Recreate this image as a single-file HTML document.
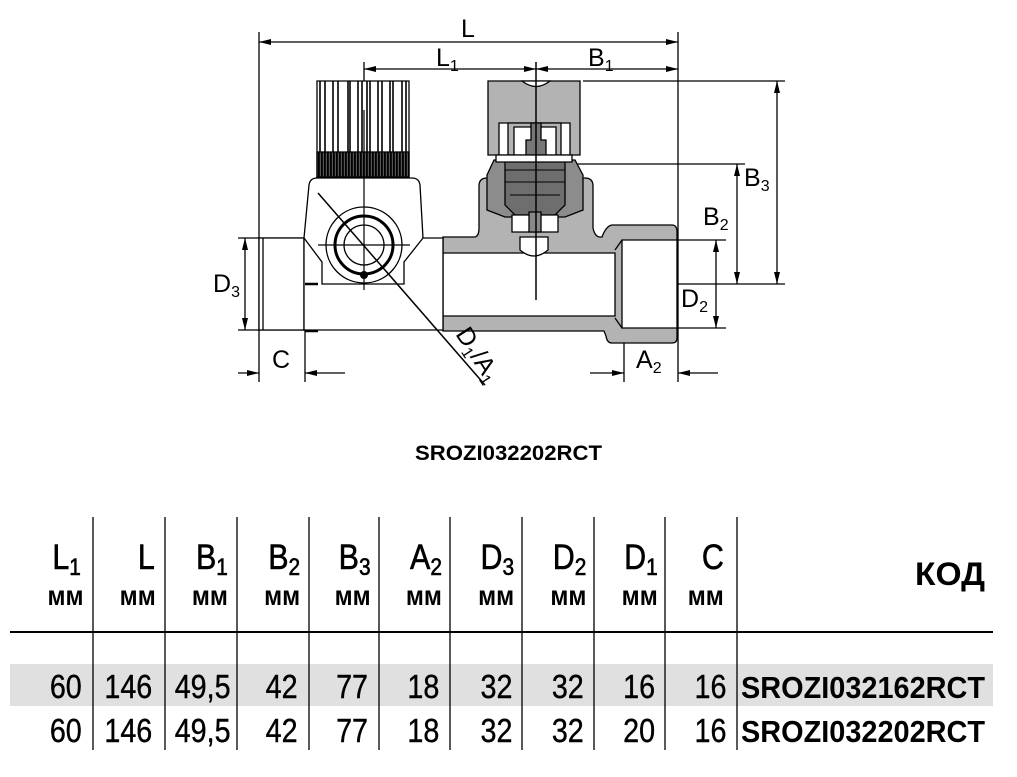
<!DOCTYPE html>
<html><head><meta charset="utf-8"><style>
html,body{margin:0;padding:0;background:#fff;}
svg{display:block;font-family:"Liberation Sans",Arial,sans-serif;}
</style></head><body>
<svg width="1017" height="777" viewBox="0 0 1017 777" xmlns="http://www.w3.org/2000/svg">
<defs>
<marker id="a" viewBox="0 0 12 6" refX="12" refY="3" markerWidth="12" markerHeight="6" orient="auto-start-reverse" markerUnits="userSpaceOnUse"><path d="M0,0 L12,3 L0,6 z" fill="#000"/></marker>
<pattern id="kn" width="3" height="10" patternUnits="userSpaceOnUse"><rect width="3" height="10" fill="#555"/><rect width="1.8" height="10" fill="#000"/></pattern>
</defs>
<g stroke="#000" stroke-width="1.3" fill="none">
<line x1="259" y1="32" x2="259" y2="382"/>
<line x1="678" y1="32" x2="678" y2="382"/>
<line x1="364" y1="62" x2="364" y2="82"/>
<line x1="583" y1="81" x2="785" y2="81"/>
<line x1="575" y1="164" x2="745" y2="164"/>
<line x1="259" y1="284" x2="785" y2="284"/>
<line x1="238" y1="238" x2="305" y2="238"/>
<line x1="238" y1="330" x2="305" y2="330"/>
<line x1="677" y1="240" x2="726" y2="240"/>
<line x1="677" y1="328" x2="726" y2="328"/>
<line x1="305" y1="330" x2="305" y2="382"/>
<line x1="624" y1="330" x2="624" y2="382"/>
<line x1="259" y1="42" x2="678" y2="42" marker-start="url(#a)" marker-end="url(#a)"/>
<line x1="364" y1="69" x2="536" y2="69" marker-start="url(#a)" marker-end="url(#a)"/>
<line x1="536" y1="69" x2="678" y2="69" marker-start="url(#a)" marker-end="url(#a)"/>
<line x1="777" y1="81" x2="777" y2="284" marker-start="url(#a)" marker-end="url(#a)"/>
<line x1="737" y1="164" x2="737" y2="284" marker-start="url(#a)" marker-end="url(#a)"/>
<line x1="716" y1="240" x2="716" y2="328" marker-start="url(#a)" marker-end="url(#a)"/>
<line x1="245" y1="238" x2="245" y2="330" marker-start="url(#a)" marker-end="url(#a)"/>
<line x1="238" y1="373" x2="259" y2="373" marker-end="url(#a)"/>
<line x1="345" y1="373" x2="305" y2="373" marker-end="url(#a)"/>
<line x1="590" y1="373" x2="624" y2="373" marker-end="url(#a)"/>
<line x1="718" y1="373" x2="678" y2="373" marker-end="url(#a)"/>
</g>
<g stroke="#000" stroke-width="1.3">
<path d="M443,237 L474,237 Q479,237 479,228 L479,186 Q479,178 487,178 L585,178 Q593,178 593,186 L593,228 Q595,237 600,237 L602,237 Q606,226 612,225 L672,225 Q677,225 677,232 L677,338 Q677,343 672,343 L612,343 Q607,343 606,336 L604,331 L443,331 Z" fill="#b3b3b3"/>
<path d="M443,253 L615,253 L615,316 L443,316 Z" fill="#fff"/>
<path d="M622,240 L677,240 L677,328 L622,328 Z" fill="#fff"/>
<line x1="615" y1="250" x2="622" y2="240"/>
<line x1="615" y1="318" x2="622" y2="328"/>
<path d="M520,237 L520,250 Q534,262 548,250 L548,237 Z" fill="#fff"/>
<path d="M488,81 L580,81 L580,155 L488,155 Z" fill="#b3b3b3"/>
<path d="M522,81 Q536,92 550,81 Z" fill="#fff"/>
<path d="M499,123 L570,123 L570,155 L499,155 Z" fill="#fff"/>
<path d="M508,123 L561,123 L561,155 L508,155 Z" fill="#b3b3b3"/>
<path d="M514,127 L556,127 L556,155 L514,155 Z" fill="#fff"/>
<path d="M531,123 L541,123 L541,140 L546,140 L546,155 L526,155 L526,140 L531,140 Z" fill="#777"/>
<path d="M494,160 L575,160 L583,175 L583,210 L565,217 L505,217 L487,210 L487,175 Z" fill="#8c8c8c"/>
<path d="M505,157 L565,157 L565,205 L555,215 L515,215 L505,205 Z" fill="#6e6e6e"/>
<path d="M496,155 L572,155 L572,162 L496,162 Z" fill="#fff"/>
<path d="M512,215 L558,215 L558,232 L512,232 Z" fill="#fff"/>
<path d="M529,212 L541,212 L541,232 L529,232 Z" fill="#888"/>
</g>
<g stroke="#000" stroke-width="1" fill="none">
<line x1="505" y1="170" x2="565" y2="170"/><line x1="505" y1="182" x2="565" y2="182"/><line x1="510" y1="195" x2="560" y2="195"/>
</g>
<g stroke="#000" stroke-width="1.3" fill="#fff">
<path d="M259,238 L304,238 L304,330 L259,330 Z"/>
<line x1="263" y1="238" x2="263" y2="330"/>
<path d="M304,238 L304,330 L443,330 L443,238 L423,238 L420,185 Q419,178 412,178 L317,178 Q310,178 309,185 Z"/>
<path d="M304,238 L322,262 L322,284 L404,284 L404,262 L423,238" fill="none"/>
<path d="M317,81 L409,81 L409,177 L317,177 Z"/>
<rect x="317" y="152" width="92" height="25" fill="url(#kn)"/>
</g>
<g stroke="#000" stroke-width="1.6">
<line x1="320" y1="81" x2="320" y2="152"/><line x1="325" y1="81" x2="325" y2="152"/>
<line x1="333" y1="81" x2="333" y2="152"/><line x1="338" y1="81" x2="338" y2="152"/>
<line x1="348" y1="81" x2="348" y2="152"/><line x1="350" y1="81" x2="350" y2="152"/>
<line x1="358" y1="81" x2="358" y2="152"/><line x1="362" y1="81" x2="362" y2="152"/>
<line x1="367" y1="81" x2="367" y2="152"/><line x1="370" y1="81" x2="370" y2="152"/>
<line x1="378" y1="81" x2="378" y2="152"/><line x1="382" y1="81" x2="382" y2="152"/>
<line x1="390" y1="81" x2="390" y2="152"/><line x1="393" y1="81" x2="393" y2="152"/>
<line x1="402" y1="81" x2="402" y2="152"/><line x1="406" y1="81" x2="406" y2="152"/>
</g>
<g stroke="#000" fill="none">
<circle cx="364" cy="245" r="38" stroke-width="1.3"/>
<circle cx="364" cy="245" r="29" stroke-width="3"/>
<circle cx="364" cy="245" r="20" stroke-width="1.3"/>
<line x1="364" y1="110" x2="364" y2="290" stroke-width="1.2"/>
<line x1="318" y1="245" x2="410" y2="245" stroke-width="1.2"/>
<line x1="318" y1="193" x2="485" y2="385" stroke-width="1.5"/>
<line x1="536" y1="62" x2="536" y2="300" stroke-width="1.5"/>
<line x1="305" y1="284" x2="318" y2="284" stroke-width="2.5"/>
<line x1="305" y1="331" x2="318" y2="331" stroke-width="2.5"/>
</g>
<circle cx="364" cy="275" r="4" fill="#000"/>
<g font-size="25" fill="#000">
<text x="461" y="37">L</text>
<text x="436" y="66">L<tspan font-size="16" dy="5">1</tspan></text>
<text x="588" y="66">B<tspan font-size="16" dy="5">1</tspan></text>
<text x="744" y="186">B<tspan font-size="16" dy="5">3</tspan></text>
<text x="703" y="225">B<tspan font-size="16" dy="5">2</tspan></text>
<text x="213" y="292">D<tspan font-size="16" dy="5">3</tspan></text>
<text x="681" y="307">D<tspan font-size="16" dy="5">2</tspan></text>
<text x="272" y="368">C</text>
<text x="636" y="368">A<tspan font-size="16" dy="5">2</tspan></text>
<text transform="translate(455,334) rotate(57)">D<tspan font-size="16" dy="5">1</tspan><tspan dy="-5">/A</tspan><tspan font-size="16" dy="5">1</tspan></text>
</g>
<text x="415" y="460" font-size="21" font-weight="bold" textLength="187" lengthAdjust="spacingAndGlyphs">SROZI032202RCT</text>
<rect x="10" y="664" width="983" height="42" fill="#e0e0e0"/>
<line x1="10" y1="632" x2="993" y2="632" stroke="#000" stroke-width="2"/>
<g stroke="#000" stroke-width="1.3">
<line x1="93" y1="517" x2="93" y2="750"/><line x1="165" y1="517" x2="165" y2="750"/>
<line x1="237" y1="517" x2="237" y2="750"/><line x1="309" y1="517" x2="309" y2="750"/>
<line x1="379" y1="517" x2="379" y2="750"/><line x1="450" y1="517" x2="450" y2="750"/>
<line x1="522" y1="517" x2="522" y2="750"/><line x1="594" y1="517" x2="594" y2="750"/>
<line x1="665" y1="517" x2="665" y2="750"/><line x1="737" y1="517" x2="737" y2="750"/>
</g>
<g transform="scale(0.87,1)" text-anchor="end" fill="#000" stroke="#000" stroke-width="0.6">
<g font-size="35">
<text x="93" y="569">L<tspan font-size="24" dy="6">1</tspan></text>
<text x="178" y="569">L</text>
<text x="262" y="569">B<tspan font-size="24" dy="6">1</tspan></text>
<text x="345" y="569">B<tspan font-size="24" dy="6">2</tspan></text>
<text x="426" y="569">B<tspan font-size="24" dy="6">3</tspan></text>
<text x="508" y="569">A<tspan font-size="24" dy="6">2</tspan></text>
<text x="591" y="569">D<tspan font-size="24" dy="6">3</tspan></text>
<text x="674" y="569">D<tspan font-size="24" dy="6">2</tspan></text>
<text x="756" y="569">D<tspan font-size="24" dy="6">1</tspan></text>
<text x="832" y="569">C</text>
</g>
<g font-size="28" font-weight="bold" stroke="none">
<text x="96" y="605">мм</text><text x="179" y="605">мм</text><text x="262" y="605">мм</text>
<text x="345" y="605">мм</text><text x="426" y="605">мм</text><text x="508" y="605">мм</text>
<text x="591" y="605">мм</text><text x="674" y="605">мм</text><text x="756" y="605">мм</text>
<text x="832" y="605">мм</text>
</g>
<g font-size="33" stroke-width="0.4">
<text x="94" y="698">60</text><text x="175" y="698">146</text><text x="265" y="698">49,5</text>
<text x="342" y="698">42</text><text x="423" y="698">77</text><text x="505" y="698">18</text>
<text x="589" y="698">32</text><text x="671" y="698">32</text><text x="753" y="698">16</text>
<text x="835" y="698">16</text>
<text x="94" y="742">60</text><text x="175" y="742">146</text><text x="265" y="742">49,5</text>
<text x="342" y="742">42</text><text x="423" y="742">77</text><text x="505" y="742">18</text>
<text x="589" y="742">32</text><text x="671" y="742">32</text><text x="753" y="742">20</text>
<text x="835" y="742">16</text>
</g>
</g>
<g font-weight="bold" fill="#000">
<text x="915" y="585" font-size="32" textLength="70" lengthAdjust="spacingAndGlyphs">КОД</text>
<text x="741" y="698" font-size="31" textLength="244" lengthAdjust="spacingAndGlyphs">SROZI032162RCT</text>
<text x="741" y="742" font-size="31" textLength="244" lengthAdjust="spacingAndGlyphs">SROZI032202RCT</text>
</g>
</svg>
</body></html>
